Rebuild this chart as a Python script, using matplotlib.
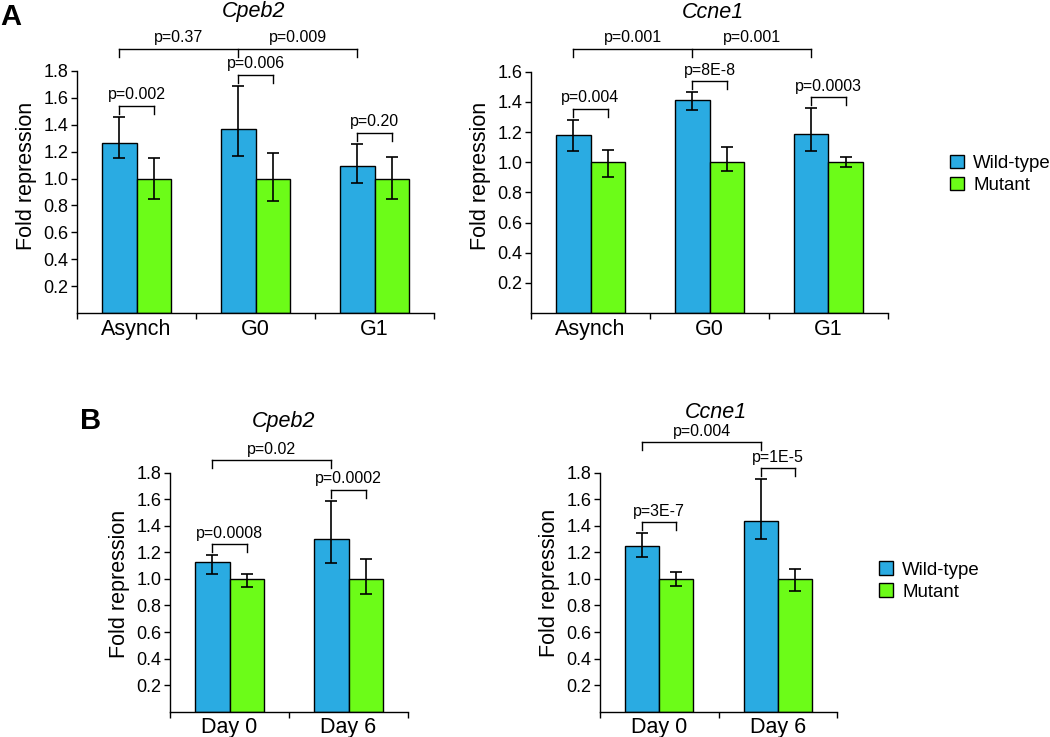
#!/usr/bin/env python3
"""
Fold repression bar charts (Wild-type vs Mutant) with p-value brackets.
Panel A: cell-cycle stages, Panel B: days.
"""
import numpy as np
import matplotlib
matplotlib.use("Agg")
import matplotlib.pyplot as plt
import matplotlib.ticker as ticker
from matplotlib.patches import Patch

plt.rcParams["font.family"] = ["Liberation Sans", "DejaVu Sans"]

# ── Data ─────────────────────────────────────────────────────────────────────
A_CATS = ["Asynch", "G0", "G1"]
B_CATS = ["Day 0", "Day 6"]

# Panel A, Cpeb2
A_CPEB2_WT     = [1.265, 1.37, 1.095]
A_CPEB2_WT_LO  = [1.15, 1.17, 0.965]
A_CPEB2_WT_HI  = [1.46, 1.69, 1.26]
A_CPEB2_MUT    = [1.0, 1.0, 1.0]
A_CPEB2_MUT_LO = [0.845, 0.83, 0.85]
A_CPEB2_MUT_HI = [1.155, 1.19, 1.16]
A_CPEB2_P_IN   = ["p=0.002", "p=0.006", "p=0.20"]
A_CPEB2_P_OUT  = ["p=0.37", "p=0.009"]

# Panel A, Ccne1
A_CCNE1_WT     = [1.18, 1.41, 1.185]
A_CCNE1_WT_LO  = [1.074, 1.346, 1.074]
A_CCNE1_WT_HI  = [1.28, 1.463, 1.357]
A_CCNE1_MUT    = [1.0, 1.0, 1.0]
A_CCNE1_MUT_LO = [0.90, 0.944, 0.97]
A_CCNE1_MUT_HI = [1.08, 1.10, 1.034]
A_CCNE1_P_IN   = ["p=0.004", "p=8E-8", "p=0.0003"]
A_CCNE1_P_OUT  = ["p=0.001", "p=0.001"]

# Panel B, Cpeb2
B_CPEB2_WT     = [1.127, 1.30]
B_CPEB2_WT_LO  = [1.04, 1.117]
B_CPEB2_WT_HI  = [1.18, 1.59]
B_CPEB2_MUT    = [1.0, 1.0]
B_CPEB2_MUT_LO = [0.94, 0.884]
B_CPEB2_MUT_HI = [1.04, 1.148]
B_CPEB2_P_IN   = ["p=0.0008", "p=0.0002"]
B_CPEB2_P_OUT  = ["p=0.02"]

# Panel B, Ccne1
B_CCNE1_WT     = [1.248, 1.438]
B_CCNE1_WT_LO  = [1.167, 1.30]
B_CCNE1_WT_HI  = [1.343, 1.752]
B_CCNE1_MUT    = [1.0, 1.0]
B_CCNE1_MUT_LO = [0.944, 0.911]
B_CCNE1_MUT_HI = [1.054, 1.072]
B_CCNE1_P_IN   = ["p=3E-7", "p=1E-5"]
B_CCNE1_P_OUT  = ["p=0.004"]

# ── Style ────────────────────────────────────────────────────────────────────
W, H = 1050, 737
BLUE  = "#2aabe2"
GREEN = "#6cfc18"
BAR_W = 0.286

fig = plt.figure(figsize=(W / 100, H / 100), dpi=100)


def px_axes(x0, x1, y_top, y_bot):
    return fig.add_axes([x0 / W, 1 - y_bot / H, (x1 - x0) / W, (y_bot - y_top) / H])


def bracket(ax, xs, y, drop, labels):
    """Horizontal line at y with downward ticks at xs, labels between nodes."""
    ax.plot([xs[0], xs[-1]], [y, y], color="black", lw=1, clip_on=False)
    for x in xs:
        ax.plot([x, x], [y, y - drop], color="black", lw=1, clip_on=False)
    for i, lab in enumerate(labels):
        xm = (xs[i] + xs[i + 1]) / 2
        ax.annotate(lab, (xm, y), xytext=(0, 2.5), textcoords="offset points",
                    ha="center", va="bottom", fontsize=11.5, annotation_clip=False)


def panel(ax, cats, ymax, wt, wt_lo, wt_hi, mut, mut_lo, mut_hi, p_in, p_out, top_y, label_y):
    x = np.arange(len(cats))
    wt, mut = np.array(wt), np.array(mut)
    ax.bar(x - BAR_W / 2, wt, BAR_W, color=BLUE, edgecolor="black", lw=1, zorder=2)
    ax.bar(x + BAR_W / 2, mut, BAR_W, color=GREEN, edgecolor="black", lw=1, zorder=2)
    ekw = dict(fmt="none", ecolor="black", elinewidth=1.2, capsize=4, capthick=1.2, zorder=3)
    ax.errorbar(x - BAR_W / 2, wt, yerr=[wt - np.array(wt_lo), np.array(wt_hi) - wt], **ekw)
    ax.errorbar(x + BAR_W / 2, mut, yerr=[mut - np.array(mut_lo), np.array(mut_hi) - mut], **ekw)

    ax.set_xlim(-0.5, len(cats) - 0.5)
    ax.set_ylim(0, ymax)
    pos = ax.get_position()
    h_px, w_px = pos.height * H, pos.width * W
    unit = ymax / h_px          # data units per pixel
    drop = 8 * unit

    # within-group brackets
    for i, lab in enumerate(p_in):
        y = max(wt_hi[i], mut_hi[i]) + 11 * unit
        bracket(ax, [x[i] - BAR_W / 2, x[i] + BAR_W / 2], y, drop, [lab])
    # between-group bracket over the wild-type bars
    bracket(ax, list(x - BAR_W / 2), top_y, drop, p_out)

    for s in ("top", "right"):
        ax.spines[s].set_visible(False)
    ax.spines["left"].set_linewidth(1)
    ax.spines["bottom"].set_linewidth(1)
    ax.set_yticks(np.arange(0.2, ymax + 0.01, 0.2))
    ax.yaxis.set_major_formatter(ticker.FormatStrFormatter("%.1f"))
    ax.set_xticks(x)
    ax.set_xticklabels(cats, fontsize=15.5)
    ax.xaxis.set_minor_locator(ticker.FixedLocator(np.arange(-0.5, len(cats), 1.0)))
    ax.tick_params(axis="x", which="major", length=0, pad=4)
    ax.tick_params(axis="x", which="minor", length=4, width=1)
    ax.tick_params(axis="y", length=4, width=1, labelsize=13, pad=2)
    ax.set_ylabel("Fold repression", fontsize=15.5)
    ax.yaxis.set_label_coords(-40 / w_px, label_y)


ax1 = px_axes(77, 434, 71, 313)
panel(ax1, A_CATS, 1.8, A_CPEB2_WT, A_CPEB2_WT_LO, A_CPEB2_WT_HI,
      A_CPEB2_MUT, A_CPEB2_MUT_LO, A_CPEB2_MUT_HI, A_CPEB2_P_IN, A_CPEB2_P_OUT, 1.967, 0.566)

ax2 = px_axes(531, 888, 71.7, 313)
panel(ax2, A_CATS, 1.6, A_CCNE1_WT, A_CCNE1_WT_LO, A_CCNE1_WT_HI,
      A_CCNE1_MUT, A_CCNE1_MUT_LO, A_CCNE1_MUT_HI, A_CCNE1_P_IN, A_CCNE1_P_OUT, 1.753, 0.568)

ax3 = px_axes(170, 408, 472.7, 711.7)
panel(ax3, B_CATS, 1.8, B_CPEB2_WT, B_CPEB2_WT_LO, B_CPEB2_WT_HI,
      B_CPEB2_MUT, B_CPEB2_MUT_LO, B_CPEB2_MUT_HI, B_CPEB2_P_IN, B_CPEB2_P_OUT, 1.895, 0.536)

ax4 = px_axes(600, 837, 472.7, 711.7)
panel(ax4, B_CATS, 1.8, B_CCNE1_WT, B_CCNE1_WT_LO, B_CCNE1_WT_HI,
      B_CCNE1_MUT, B_CCNE1_MUT_LO, B_CCNE1_MUT_HI, B_CCNE1_P_IN, B_CCNE1_P_OUT, 2.03, 0.54)

# titles and panel letters
for (xp, yp, txt) in [(254, 12, "Cpeb2"), (713, 12, "Ccne1"), (284, 422, "Cpeb2"), (716, 412, "Ccne1")]:
    fig.text(xp / W, 1 - yp / H, txt, style="italic", fontsize=15.5, ha="center", va="center")
fig.text(11 / W, 1 - 17 / H, "A", fontweight="bold", fontsize=21, ha="center", va="center")
fig.text(91 / W, 1 - 421 / H, "B", fontweight="bold", fontsize=21, ha="center", va="center")

# legends
handles = [Patch(facecolor=BLUE, edgecolor="black", lw=1, label="Wild-type"),
           Patch(facecolor=GREEN, edgecolor="black", lw=1, label="Mutant")]
for (xp, yp) in [(950, 174.5), (879, 581)]:
    fig.legend(handles=handles, loc="center left", bbox_to_anchor=(xp / W, 1 - yp / H),
               frameon=False, fontsize=13.4, handlelength=0.75, handleheight=0.75,
               handletextpad=0.5, labelspacing=0.25, borderpad=0, borderaxespad=0)

fig.savefig("out.png", dpi=100)
